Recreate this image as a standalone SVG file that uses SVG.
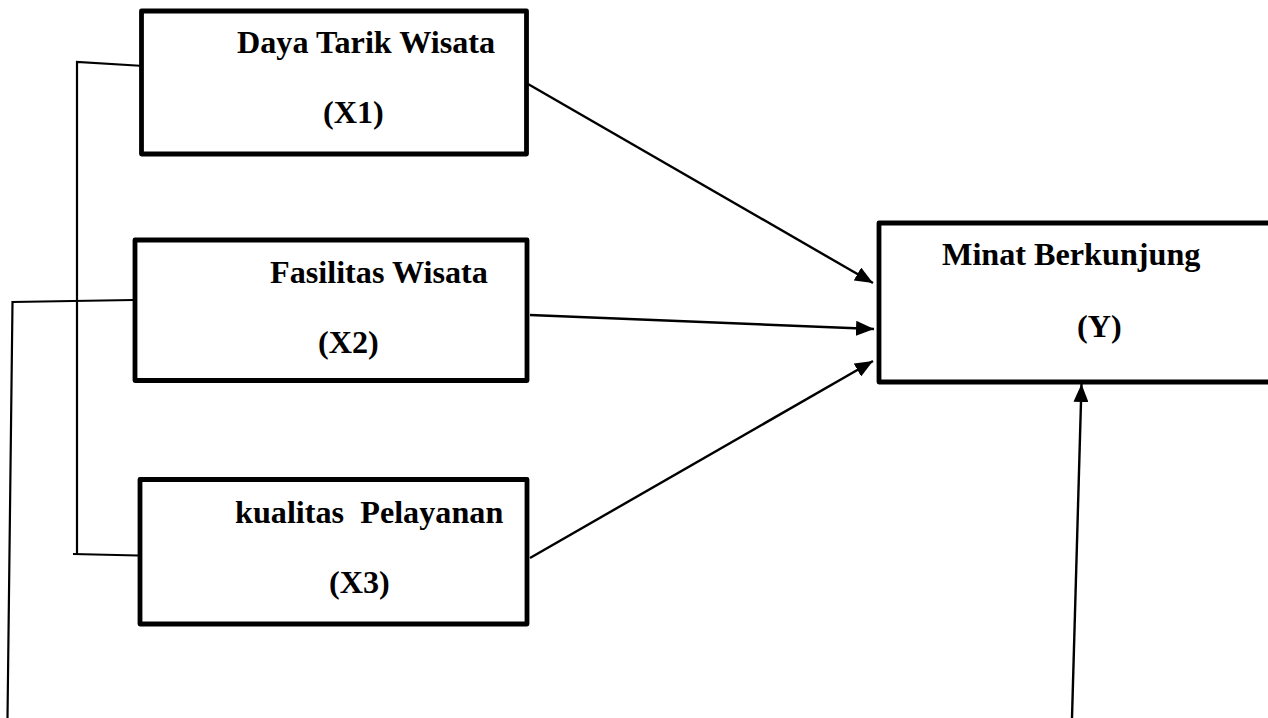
<svg xmlns="http://www.w3.org/2000/svg" width="1268" height="718" viewBox="0 0 1268 718">
  <style>
    .box { fill: #ffffff; stroke: #000000; stroke-width: 4.8; stroke-linejoin: round; }
    .lbl { font-family: "Liberation Serif", "Times New Roman", serif; font-weight: bold; font-size: 32.2px; fill: #000000; white-space: pre; }
    .ln { stroke: #000000; stroke-width: 2.2; fill: none; }
    .arr { stroke: #000000; stroke-width: 2.4; fill: none; marker-end: url(#ah); }
  </style>
  <defs>
    <marker id="ah" markerUnits="userSpaceOnUse" markerWidth="19" markerHeight="15" refX="18" refY="7.5" orient="auto">
      <path d="M0,0 L18,7.5 L0,15 z" fill="#000000"/>
    </marker>
  </defs>
  <rect width="1268" height="718" fill="#ffffff"/>

  <g id="connectors">
    <polyline class="ln" points="144,66 77,62 77,554"/>
    <line class="ln" x1="73" y1="554" x2="138" y2="555.5"/>
    <polyline class="ln" points="133,300 12.5,302 7.5,718"/>
    <line class="arr" x1="528" y1="84" x2="873" y2="283"/>
    <line class="arr" x1="530" y1="315" x2="874" y2="329"/>
    <line class="arr" x1="530" y1="558" x2="873" y2="361"/>
    <line class="arr" x1="1072" y1="718" x2="1081.5" y2="384"/>
  </g>

  <g id="node-x1">
    <rect class="box" x="141.5" y="11" width="385" height="143"/>
    <text class="lbl" x="237" y="53">Daya Tarik Wisata</text>
    <text class="lbl" x="323" y="123">(X1)</text>
  </g>

  <g id="node-x2">
    <rect class="box" x="135" y="240" width="392" height="140.5"/>
    <text class="lbl" x="270" y="283">Fasilitas Wisata</text>
    <text class="lbl" x="318" y="353">(X2)</text>
  </g>

  <g id="node-x3">
    <rect class="box" x="140" y="479.5" width="387" height="144.5"/>
    <text class="lbl" x="235" y="523">kualitas  Pelayanan</text>
    <text class="lbl" x="329" y="593">(X3)</text>
  </g>

  <g id="node-y">
    <rect class="box" x="879" y="223" width="400" height="159"/>
    <text class="lbl" x="942" y="265">Minat Berkunjung</text>
    <text class="lbl" x="1077" y="337">(Y)</text>
  </g>
</svg>
